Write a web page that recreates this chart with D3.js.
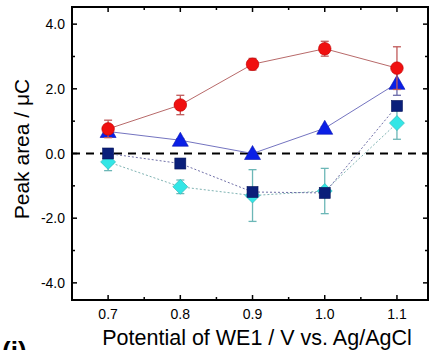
<!DOCTYPE html>
<html>
<head>
<meta charset="utf-8">
<script src="https://cdn.jsdelivr.net/npm/d3@7"></script>
<style>
  body { margin: 0; background: #fff; }
  svg { display: block; font-family: "Liberation Sans", Arial, sans-serif; }
</style>
</head>
<body>
<svg id="chart" width="433" height="350"></svg>
<script>
// data
const potentials = [0.7, 0.8, 0.9, 1.0, 1.1];
const circleVals = [0.76, 1.50, 2.76, 3.24, 2.64];
const circleErr  = [0.27, 0.30, 0.18, 0.23, 0.66];
const triVals    = [0.68, 0.41, 0.0, 0.78, 2.17];
const triErr     = [0.08, 0.05, 0.05, 0.05, 0.37];
const squareVals = [0.0, -0.31, -1.19, -1.22, 1.47];
const squareErr  = [0.05, 0.05, 0.05, 0.05, 0.12];
const diamVals   = [-0.26, -1.03, -1.30, -1.16, 0.94];
const diamErr    = [0.27, 0.21, 0.80, 0.70, 0.50];
const xTicks = [0.7, 0.8, 0.9, 1.0, 1.1];
const yTicks = [-4, -2, 0, 2, 4];

const svg = d3.select("#chart");
const margin = {left: 72, top: 7, right: 5, bottom: 50};
const W = 433, H = 350;

const x = d3.scaleLinear().domain([0.65, 1.143]).range([margin.left, W - margin.right]);
const y = d3.scaleLinear().domain([-4.53, 4.53]).range([H - margin.bottom, margin.top]);

const x0 = x.range()[0], x1 = x.range()[1], y0 = y.range()[0], y1 = y.range()[1];

// ticks (inward) on all four sides
const tickLen = 5, minorLen = 3;
const g = svg.append("g").attr("stroke", "#000").attr("stroke-width", 1.5);
xTicks.forEach(t => {
    g.append("line").attr("x1", x(t)).attr("x2", x(t)).attr("y1", y0).attr("y2", y0 - tickLen);
    g.append("line").attr("x1", x(t)).attr("x2", x(t)).attr("y1", y1).attr("y2", y1 + tickLen);
});
[0.75, 0.85, 0.95, 1.05].forEach(t => {
    g.append("line").attr("x1", x(t)).attr("x2", x(t)).attr("y1", y0).attr("y2", y0 - minorLen);
    g.append("line").attr("x1", x(t)).attr("x2", x(t)).attr("y1", y1).attr("y2", y1 + minorLen);
});
yTicks.forEach(t => {
    g.append("line").attr("x1", x0).attr("x2", x0 + tickLen).attr("y1", y(t)).attr("y2", y(t));
    g.append("line").attr("x1", x1).attr("x2", x1 - tickLen).attr("y1", y(t)).attr("y2", y(t));
});
[-3, -1, 1, 3].forEach(t => {
    g.append("line").attr("x1", x0).attr("x2", x0 + minorLen).attr("y1", y(t)).attr("y2", y(t));
    g.append("line").attr("x1", x1).attr("x2", x1 - minorLen).attr("y1", y(t)).attr("y2", y(t));
});

svg.append("rect")
    .attr("x", x0).attr("y", y1)
    .attr("width", x1 - x0).attr("height", y0 - y1)
    .attr("fill", "none").attr("stroke", "#000").attr("stroke-width", 2);

// zero line
svg.append("line")
    .attr("x1", x0).attr("x2", x1).attr("y1", y(0)).attr("y2", y(0))
    .attr("stroke", "#000").attr("stroke-width", 2).attr("stroke-dasharray", "8,6");

// tick labels
svg.append("g").selectAll("text").data(xTicks).join("text")
    .attr("x", d => x(d)).attr("y", y0 + 19)
    .attr("text-anchor", "middle").attr("font-size", 14)
    .text(d => d.toFixed(1));
svg.append("g").selectAll("text").data(yTicks).join("text")
    .attr("x", x0 - 7).attr("y", d => y(d) + 5)
    .attr("text-anchor", "end").attr("font-size", 14)
    .text(d => d.toFixed(1));

// axis titles
svg.append("text")
    .attr("x", 257).attr("y", 345)
    .attr("text-anchor", "middle").attr("font-size", 21.5)
    .text("Potential of WE1 / V vs. Ag/AgCl");
svg.append("text")
    .attr("transform", `translate(29,149) rotate(-90)`)
    .attr("text-anchor", "middle").attr("font-size", 21)
    .text("Peak area / μC");
svg.append("text")
    .attr("x", 2).attr("y", 360)
    .attr("font-size", 26).attr("font-weight", "bold")
    .text("(i)");

const line = d3.line().x((d, i) => x(potentials[i])).y(d => y(d));

function series(vals, errs, lineColor, dash, errColor, drawMarker) {
    const sg = svg.append("g");
    sg.append("path").datum(vals)
        .attr("d", line).attr("fill", "none")
        .attr("stroke", lineColor).attr("stroke-width", 1)
        .attr("stroke-dasharray", dash);
    const eg = sg.append("g").attr("stroke", errColor).attr("stroke-width", 1.3);
    vals.forEach((v, i) => {
        const cx = x(potentials[i]);
        eg.append("line").attr("x1", cx).attr("x2", cx).attr("y1", y(v + errs[i])).attr("y2", y(v - errs[i]));
        eg.append("line").attr("x1", cx - 4).attr("x2", cx + 4).attr("y1", y(v + errs[i])).attr("y2", y(v + errs[i]));
        eg.append("line").attr("x1", cx - 4).attr("x2", cx + 4).attr("y1", y(v - errs[i])).attr("y2", y(v - errs[i]));
    });
    vals.forEach((v, i) => drawMarker(sg, x(potentials[i]), y(v)));
}

// draw order: diamonds, squares, triangles, circles
series(diamVals, diamErr, "#7fb3b3", "2,2", "#6cb7b7", (sg, cx, cy) => {
    sg.append("path").attr("d", `M${cx},${cy - 7.5}L${cx + 7.5},${cy}L${cx},${cy + 7.5}L${cx - 7.5},${cy}Z`)
        .attr("fill", "#33e6e6").attr("stroke", "#2ab0b0").attr("stroke-width", 0.6);
});
series(squareVals, squareErr, "#7070a8", "2,2", "#55558f", (sg, cx, cy) => {
    sg.append("rect").attr("x", cx - 5.5).attr("y", cy - 5.5).attr("width", 11).attr("height", 11)
        .attr("fill", "#0a1f7a").attr("stroke", "#06155a").attr("stroke-width", 0.6);
});
series(triVals, triErr, "#7474c0", null, "#6a6aa8", (sg, cx, cy) => {
    sg.append("path").attr("d", `M${cx},${cy - 8}L${cx + 8},${cy + 6}L${cx - 8},${cy + 6}Z`)
        .attr("fill", "#0a1fe6").attr("stroke", "#0a14b0").attr("stroke-width", 0.6);
});
series(circleVals, circleErr, "#b86a6a", null, "#c05a5a", (sg, cx, cy) => {
    sg.append("circle").attr("cx", cx).attr("cy", cy).attr("r", 6.3)
        .attr("fill", "#f01010").attr("stroke", "#c00000").attr("stroke-width", 0.6);
});
</script>
</body>
</html>
